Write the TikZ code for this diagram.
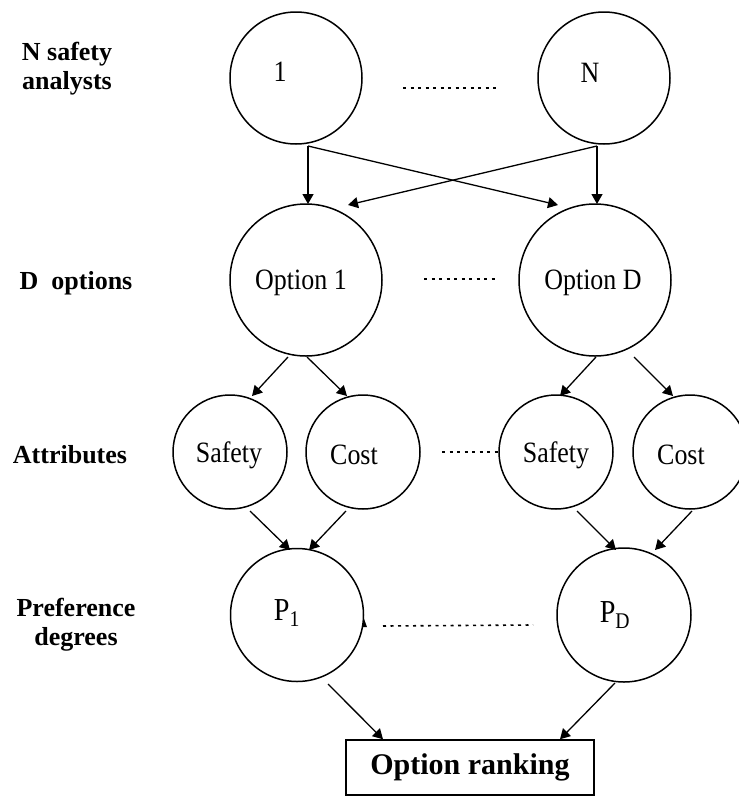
\documentclass[tikz,border=0pt]{standalone}
\usepackage{fontspec}
\setmainfont{Liberation Serif}
\newfontfamily\nodefont{Liberation Serif}[FakeStretch=0.88]
\usetikzlibrary{arrows.meta,calc}
\begin{document}
\begin{tikzpicture}[x=1pt,y=-1pt,
  circ/.style={draw,circle,line width=1.5pt,inner sep=0pt},
  arr/.style={-{Triangle[length=10pt,width=11pt]},line width=1.3pt},
  dots/.style={line width=1.6pt,dash pattern=on 3pt off 4.5pt},
  lab/.style={font=\fontsize{26}{29}\selectfont\bfseries,align=center},
  txt/.style={font=\nodefont\fontsize{29.5}{32}\selectfont},
  ptxt/.style={font=\nodefont\fontsize{32}{36}\selectfont}]
\useasboundingbox (0,0) rectangle (739,796);

% left labels
\node[lab] (l1) at (67,69) {N safety\\analysts};
\node[lab] (l2) at (76,283) {D\ \ options};
\node[lab] (l3) at (70,455) {Attributes};
\node[lab] (l4) at (76,625) {Preference\\degrees};

% analysts
\node[circ,minimum size=132pt,label={[txt,xshift=-16pt,yshift=6pt]center:1}] (n1) at (296,78) {};
\node[circ,minimum size=132pt,label={[txt,xshift=-14pt,yshift=5pt]center:N}] (nN) at (604,78) {};

% options
\node[circ,minimum size=152pt,label={[txt,xshift=-5pt,yshift=-3pt]center:Option 1}] (opt1) at (306,280) {};
\node[circ,minimum size=152pt,label={[txt,xshift=-2pt,yshift=-3pt]center:Option D}] (optD) at (595,280) {};

% attributes
\node[circ,minimum size=114pt,label={[txt,xshift=-1pt,yshift=-3pt]center:Safety}] (s1) at (230,452) {};
\node[circ,minimum size=114pt,label={[txt,xshift=-9pt,yshift=-3pt]center:Cost}] (c1) at (363,452) {};
\node[circ,minimum size=114pt,label={[txt,xshift=0pt,yshift=-3pt]center:Safety}] (s2) at (556,452) {};
\node[circ,minimum size=114pt,label={[txt,xshift=-9pt,yshift=-3pt]center:Cost}] (c2) at (690,452) {};

% preference degrees
\node[circ,minimum size=133pt,label={[ptxt,xshift=-10pt,yshift=2pt]center:P\textsubscript{1}}] (p1) at (297,615) {};
\node[circ,minimum size=134pt,label={[ptxt,xshift=-9pt,yshift=0pt]center:P\textsubscript{D}}] (pD) at (624,615) {};

% ranking
\node[draw,line width=1.5pt,minimum width=248pt,minimum height=55pt,inner sep=0pt,
      font=\fontsize{30}{34}\selectfont\bfseries] (rank) at (470,767.5) {Option ranking};

% junctions
\coordinate (j1) at ($(n1)+(12,68)$);
\coordinate (j2) at ($(nN)+(-7,68)$);

% analysts -> options
\draw[arr] (j1) -- ($(opt1)+(2,-76)$);
\draw[arr] (j1) -- ($(optD)+(-37,-75)$);
\draw[arr] (j2) -- ($(optD)+(2,-76)$);
\draw[arr] (j2) -- ($(opt1)+(42,-75)$);

% options -> attributes
\draw[arr] ($(opt1)+(-18,77)$) -- ($(s1)+(22,-56)$);
\draw[arr] ($(opt1)+(1,77)$) -- ($(c1)+(-16,-56)$);
\draw[arr] ($(optD)+(1,77)$) -- ($(s2)+(4,-56)$);
\draw[arr] ($(optD)+(39,77)$) -- ($(c2)+(-17,-56)$);

% attributes -> preference degrees
\draw[arr] ($(s1)+(20,59)$) -- ($(p1)+(-7,-65)$);
\draw[arr] ($(c1)+(-17,59)$) -- ($(p1)+(12,-65)$);
\draw[arr] ($(s2)+(21,59)$) -- ($(pD)+(-8,-65)$);
\draw[arr] ($(c2)+(2,59)$) -- ($(pD)+(31,-65)$);

% preference degrees -> ranking
\draw[arr] ($(p1)+(31,69)$) -- ($(rank.north)+(-87,0)$);
\draw[arr] ($(pD)+(-9,68)$) -- ($(rank.north)+(90,0)$);

% dotted lines
\draw[dots] ($(n1)+(107,10)$) -- ($(nN)+(-104,10)$);
\draw[dots] ($(opt1)+(118,-1)$) -- ($(optD)+(-100,-1)$);
\draw[dots] ($(c1)+(79,0)$) -- (s2.west);
\draw[dots] ($(p1)+(86,11)$) -- ($(pD)+(-91,10)$);

% small mark on P1
\fill ($(p1)+(66,1)$) -- ($(p1)+(70,12)$) -- ($(p1)+(66,12)$) -- cycle;
\end{tikzpicture}
\end{document}
